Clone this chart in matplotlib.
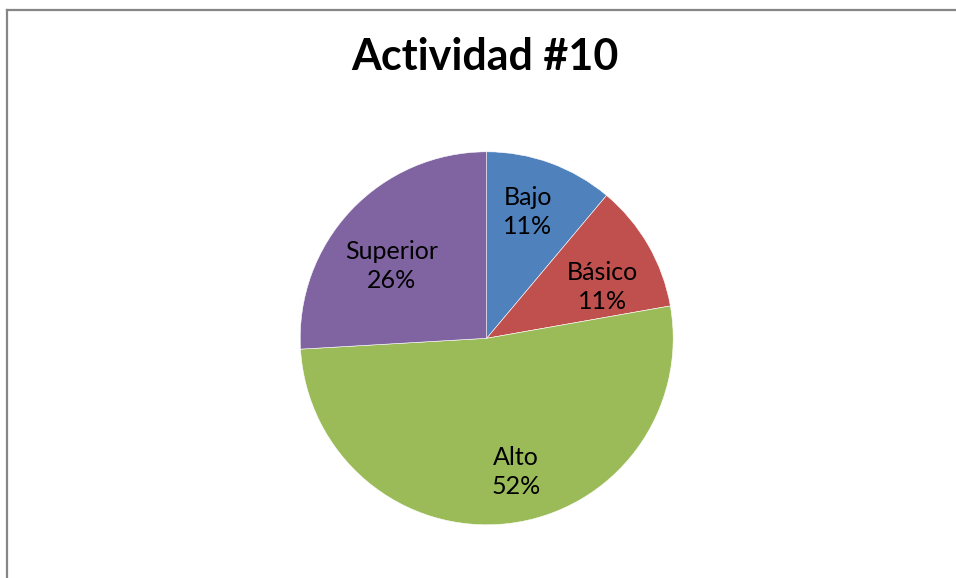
import numpy as np
import matplotlib
matplotlib.use("Agg")
import matplotlib.pyplot as plt
from matplotlib.lines import Line2D

categories = ["Bajo", "Básico", "Alto", "Superior"]
values = [3, 3, 14, 7]
colors = ["#4F81BD", "#C0504D", "#9BBB59", "#8064A2"]
label_dist = [0.71, 0.68, 0.735, 0.64]
label_angle_nudge = [2, -6, 5.6, 6]
title = "Actividad #10"

W, H = 956, 578
fig = plt.figure(figsize=(W / 100, H / 100), dpi=100)
fig.patch.set_facecolor("white")

cx, cy, r = 486.7, 338.3, 186.5
ax = fig.add_axes([(cx - r) / W, (H - cy - r) / H, 2 * r / W, 2 * r / H])
wedges, _ = ax.pie(values, colors=colors, startangle=90, counterclock=False,
                   radius=1, wedgeprops=dict(edgecolor="white", linewidth=0.4))
ax.set_xlim(-1, 1)
ax.set_ylim(-1, 1)
ax.set_aspect("equal")
ax.axis("off")

total = sum(values)
font = ["Lato", "DejaVu Sans"]
for w, cat, v, d, nud in zip(wedges, categories, values, label_dist, label_angle_nudge):
    ang = np.deg2rad((w.theta1 + w.theta2) / 2 + nud)
    x, y = d * np.cos(ang), d * np.sin(ang)
    ax.text(x, y, f"{cat}\n{round(100 * v / total):d}%", ha="center", va="center",
            fontsize=18, family=font, color="black", linespacing=1.32)

fig.text(485 / W, 1 - 70 / H, title, ha="center", va="baseline", fontsize=31,
         fontweight="bold", family=font, color="black")

# chart area border (top and left visible)
fig.add_artist(Line2D([6.5 / W, 1], [1 - 9.5 / H, 1 - 9.5 / H], color="#868686", lw=1.6,
                      transform=fig.transFigure))
fig.add_artist(Line2D([6.5 / W, 6.5 / W], [0, 1 - 9.5 / H], color="#868686", lw=1.6,
                      transform=fig.transFigure))

fig.savefig("out.png", dpi=100, facecolor="white")
